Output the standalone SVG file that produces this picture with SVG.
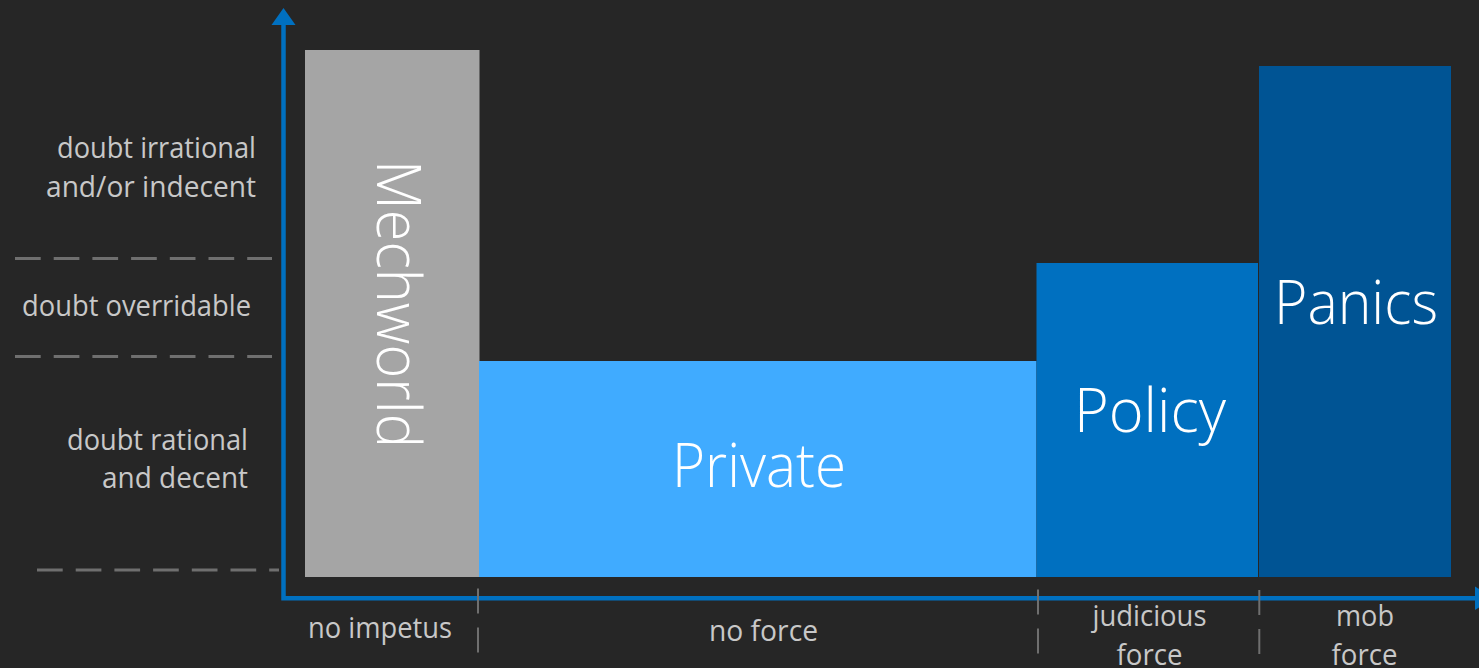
<svg xmlns="http://www.w3.org/2000/svg" width="1479" height="668" viewBox="0 0 1479 668">
<defs>
<style>
.lbl{font-family:"Open Sans","Noto Sans","Liberation Sans",sans-serif;font-size:29px;fill:#c8c8c8}
.big{font-family:"Open Sans","Noto Sans","Liberation Sans",sans-serif;font-size:61px;font-weight:300;fill:#ffffff}
.guide{stroke:#6f6f6f;stroke-width:3;stroke-dasharray:25.7 13;fill:none}
.tick{stroke:#6f6f6f;stroke-width:2;stroke-dasharray:25 14;fill:none}
.axis{stroke:#0070c0;stroke-width:4.5;fill:none}
</style>
</defs>
<rect x="0" y="0" width="1479" height="668" fill="#262626"/>

<g id="guides">
<line class="guide" x1="15" y1="258.5" x2="272" y2="258.5"/>
<line class="guide" x1="15" y1="356.5" x2="272" y2="356.5"/>
<line class="guide" x1="37" y1="570" x2="279" y2="570"/>
</g>

<g id="y-labels">
<text class="lbl" x="256" y="158" text-anchor="end" textLength="199" lengthAdjust="spacingAndGlyphs">doubt irrational</text>
<text class="lbl" x="256" y="197" text-anchor="end" textLength="210" lengthAdjust="spacingAndGlyphs">and/or indecent</text>
<text class="lbl" x="251" y="316" text-anchor="end" textLength="229" lengthAdjust="spacingAndGlyphs">doubt overridable</text>
<text class="lbl" x="248" y="450" text-anchor="end" textLength="181" lengthAdjust="spacingAndGlyphs">doubt rational</text>
<text class="lbl" x="248" y="488" text-anchor="end" textLength="146" lengthAdjust="spacingAndGlyphs">and decent</text>
</g>

<g id="node-mechworld">
<rect x="305" y="50" width="174.5" height="527" fill="#a5a5a5"/>
<text class="big" transform="translate(377,304) rotate(90)" x="0" y="0" text-anchor="middle" textLength="288" lengthAdjust="spacingAndGlyphs">Mechworld</text>
</g>

<g id="node-private">
<rect x="479" y="361" width="557.5" height="216" fill="#40abff"/>
<text class="big" x="759" y="487" text-anchor="middle" textLength="174" lengthAdjust="spacingAndGlyphs">Private</text>
</g>

<g id="node-policy">
<rect x="1036.5" y="263" width="221.5" height="314" fill="#0070c0"/>
<text class="big" x="1150" y="432" text-anchor="middle" textLength="152" lengthAdjust="spacingAndGlyphs">Policy</text>
</g>

<g id="node-panics">
<rect x="1259" y="66" width="192" height="511" fill="#005494"/>
<text class="big" x="1356" y="324" text-anchor="middle" textLength="164" lengthAdjust="spacingAndGlyphs">Panics</text>
</g>

<g id="connectors">
<polyline class="axis" points="283.5,24 283.5,598.3 1476,598.3"/>
<polygon points="283.5,8 295.5,25 271.5,25" fill="#0070c0"/>
<polygon points="1493,598.3 1475,586.5 1475,610" fill="#0070c0"/>
<line class="tick" x1="478" y1="588.5" x2="478" y2="654"/>
<line class="tick" x1="1038" y1="589.5" x2="1038" y2="655"/>
<line class="tick" x1="1259.3" y1="590" x2="1259.3" y2="655"/>
</g>

<g id="x-labels">
<text class="lbl" x="380" y="638" text-anchor="middle" textLength="144" lengthAdjust="spacingAndGlyphs">no impetus</text>
<text class="lbl" x="763.5" y="641" text-anchor="middle" textLength="109" lengthAdjust="spacingAndGlyphs">no force</text>
<text class="lbl" x="1149.5" y="626" text-anchor="middle" textLength="114" lengthAdjust="spacingAndGlyphs">judicious</text>
<text class="lbl" x="1149.5" y="665" text-anchor="middle" textLength="66" lengthAdjust="spacingAndGlyphs">force</text>
<text class="lbl" x="1365" y="626" text-anchor="middle" textLength="58" lengthAdjust="spacingAndGlyphs">mob</text>
<text class="lbl" x="1364.5" y="665" text-anchor="middle" textLength="66" lengthAdjust="spacingAndGlyphs">force</text>
</g>
</svg>
